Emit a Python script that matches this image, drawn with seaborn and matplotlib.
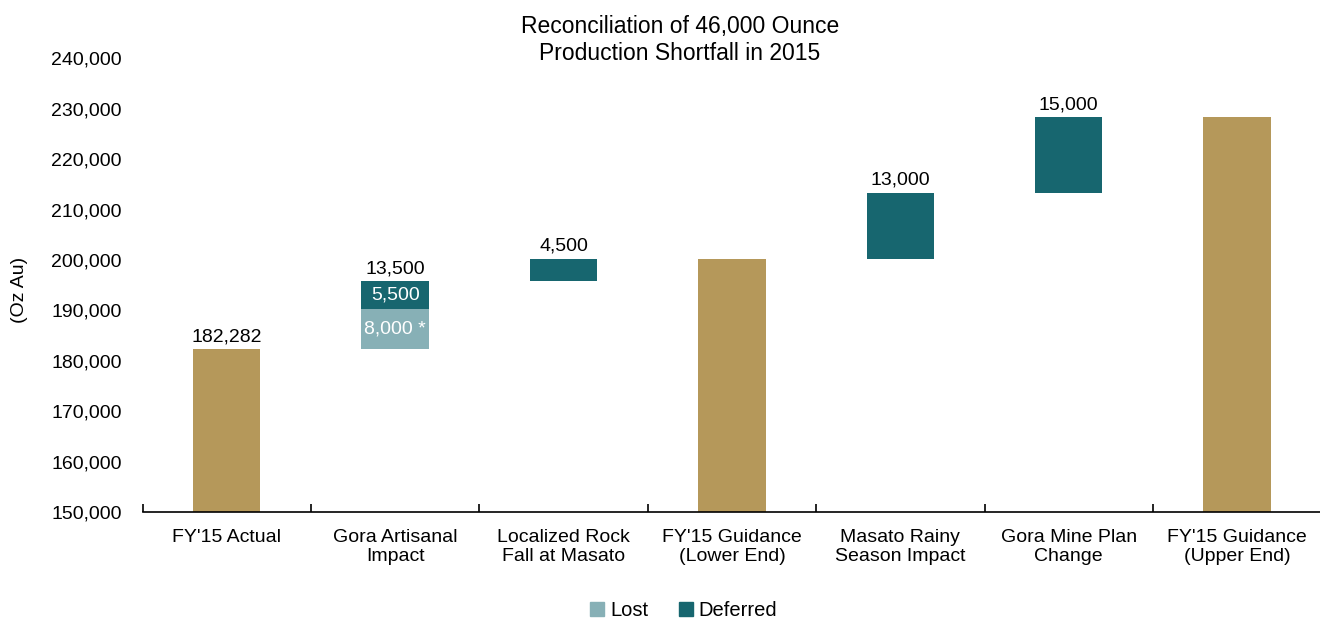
import numpy as np
import pandas as pd
import matplotlib
matplotlib.use("Agg")
import matplotlib.pyplot as plt
from matplotlib.patches import Patch
from matplotlib.ticker import FuncFormatter
import seaborn as sns

# ---------- data ----------
categories = [
    "FY'15 Actual",
    "Gora Artisanal\nImpact",
    "Localized Rock\nFall at Masato",
    "FY'15 Guidance\n(Lower End)",
    "Masato Rainy\nSeason Impact",
    "Gora Mine Plan\nChange",
    "FY'15 Guidance\n(Upper End)",
]

seg_category = [0, 1, 1, 2, 3, 4, 5, 6]
seg_kind = ["total", "lost", "deferred", "deferred", "total", "deferred", "deferred", "total"]
seg_bottom = [0, 182282, 190282, 195782, 0, 200282, 213282, 0]
seg_top = [182282, 190282, 195782, 200282, 200282, 213282, 228282, 228282]
seg_inside = ["", "8,000 *", "5,500", "", "", "", "", ""]

top_labels = ["182,282", "13,500", "4,500", "", "13,000", "15,000", ""]
top_values = [182282, 195782, 200282, 200282, 213282, 228282, 228282]

colors = {"total": "#B5985A", "lost": "#87B0B6", "deferred": "#17666F"}

df = pd.DataFrame({
    "cat": [categories[i] for i in seg_category],
    "kind": seg_kind,
    "bottom": seg_bottom,
    "top": seg_top,
    "inside": seg_inside,
})

# ---------- plot ----------
sns.set_theme(style="white")
plt.rcParams["font.family"] = ["Liberation Sans", "DejaVu Sans"]
plt.rcParams["text.color"] = "black"
plt.rcParams["axes.labelcolor"] = "black"
plt.rcParams["xtick.color"] = "black"
plt.rcParams["ytick.color"] = "black"

fig = plt.figure(figsize=(13.2, 6.2), dpi=100)
ax = fig.add_axes([0.108, 0.174, 0.893, 0.732])

for kind in ["total", "lost", "deferred"]:
    sub = df[df["kind"] == kind].copy()
    sub["pos"] = sub["cat"].map(categories.index)
    sub = sub.sort_values("pos")
    before = len(ax.patches)
    sns.barplot(data=sub, x="cat", y="top", order=categories, color=colors[kind],
                width=0.4, saturation=1, errorbar=None, linewidth=0, ax=ax)
    new = ax.patches[before:]
    new = [p for p in new if p.get_height() > 0]
    new = sorted(new, key=lambda p: p.get_x())
    for p, (_, row) in zip(new, sub.iterrows()):
        p.set_y(row["bottom"])
        p.set_height(row["top"] - row["bottom"])
        if row["inside"]:
            ax.text(p.get_x() + p.get_width() / 2, (row["bottom"] + row["top"]) / 2,
                    row["inside"], ha="center", va="center", color="white", fontsize=14)

for i, (lab, val) in enumerate(zip(top_labels, top_values)):
    if lab:
        ax.annotate(lab, (i, val), xytext=(0, 3), textcoords="offset points",
                    ha="center", va="bottom", fontsize=14, color="black")

ax.set_ylim(150000, 240000)
ax.set_xlim(-0.5, 6.5)
ax.set_yticks(np.arange(150000, 240001, 10000))
ax.yaxis.set_major_formatter(FuncFormatter(lambda v, _: f"{int(v):,}"))
ax.set_xlabel("")
ax.set_ylabel("(Oz Au)", fontsize=14)
ax.yaxis.set_label_coords(-0.097, 0.49)

for s in ["top", "right", "left"]:
    ax.spines[s].set_visible(False)
ax.spines["bottom"].set_color("black")
ax.spines["bottom"].set_linewidth(1.2)

ax.tick_params(axis="x", which="major", length=0, labelsize=14, pad=12)
for t in ax.get_xticklabels():
    t.set_linespacing(1.15)
ax.set_xticks(np.arange(-0.5, 7, 1), minor=True)
ax.tick_params(axis="x", which="minor", bottom=True, direction="in", length=6,
               width=1.2, color="black")
ax.tick_params(axis="y", length=0, labelsize=14, pad=15)

fig.text(0.515, 0.895, "Reconciliation of 46,000 Ounce\nProduction Shortfall in 2015",
         ha="center", va="bottom", fontsize=16.5, linespacing=1.25)

handles = [Patch(color=colors["lost"], label="Lost"),
           Patch(color=colors["deferred"], label="Deferred")]
fig.legend(handles=handles, loc="lower center", bbox_to_anchor=(0.518, -0.03), ncol=2,
           frameon=False, fontsize=14.5, handlelength=0.7, handleheight=0.7,
           handletextpad=0.3, columnspacing=1.5)

fig.savefig("out.png", dpi=100)
